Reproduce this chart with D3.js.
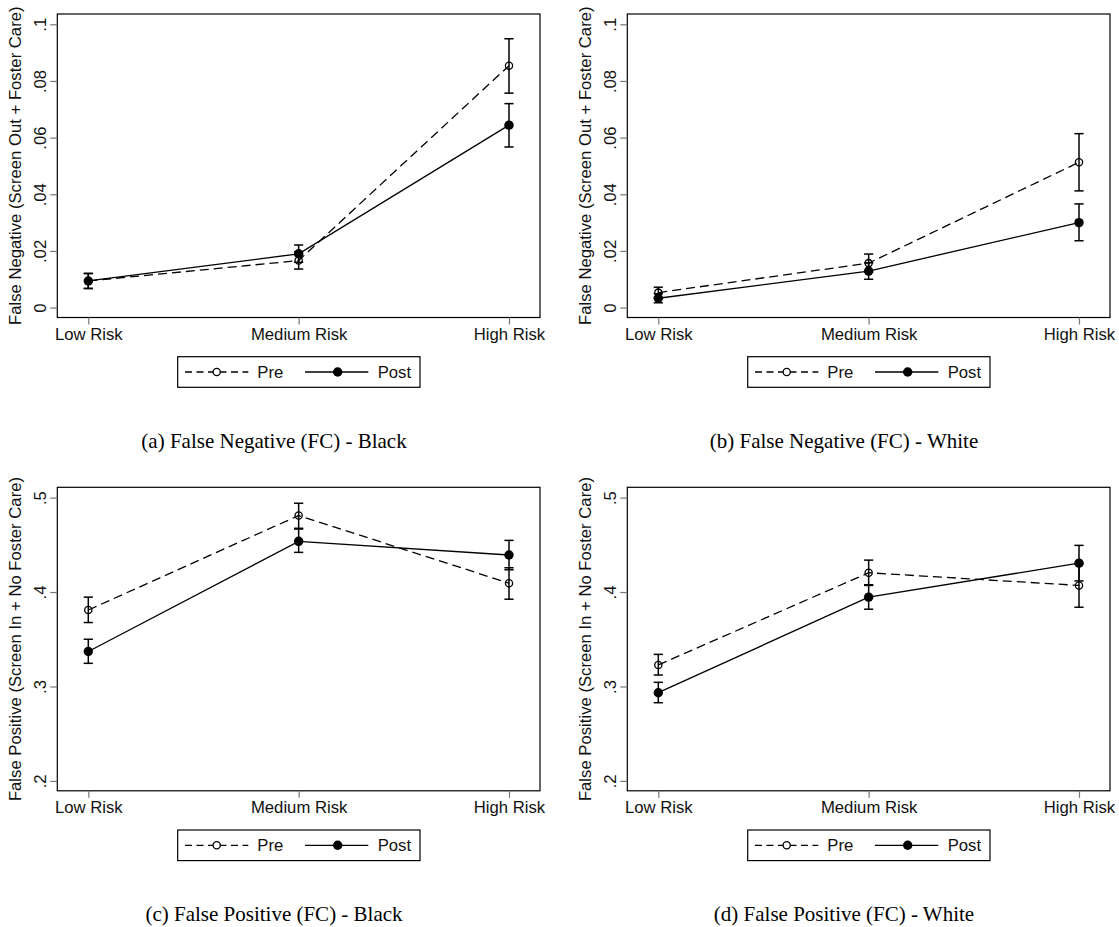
<!DOCTYPE html>
<html>
<head>
<meta charset="utf-8">
<script src="https://cdn.jsdelivr.net/npm/d3@7"></script>
<style>
  html, body { margin: 0; padding: 0; background: #fff; }
  svg { display: block; }
</style>
</head>
<body>
<svg id="chart" width="1119" height="927"></svg>
<script>
// Risk categories on the x axis
const categories = ["Low Risk", "Medium Risk", "High Risk"];

// (a) False Negative (FC) - Black
const fnBlackPre    = [0.0094, 0.0166, 0.0854];
const fnBlackPreLo  = [0.0067, 0.0136, 0.0757];
const fnBlackPreHi  = [0.0120, 0.0197, 0.0949];
const fnBlackPost   = [0.0094, 0.0190, 0.0644];
const fnBlackPostLo = [0.0068, 0.0160, 0.0567];
const fnBlackPostHi = [0.0121, 0.0221, 0.0720];

// (b) False Negative (FC) - White
const fnWhitePre    = [0.0053, 0.0157, 0.0513];
const fnWhitePreLo  = [0.0036, 0.0125, 0.0412];
const fnWhitePreHi  = [0.0072, 0.0189, 0.0614];
const fnWhitePost   = [0.0033, 0.0129, 0.0300];
const fnWhitePostLo = [0.0017, 0.0100, 0.0236];
const fnWhitePostHi = [0.0049, 0.0158, 0.0366];

// (c) False Positive (FC) - Black
const fpBlackPre    = [0.381, 0.481, 0.4094];
const fpBlackPreLo  = [0.3677, 0.4675, 0.3924];
const fpBlackPreHi  = [0.3946, 0.494, 0.4257];
const fpBlackPost   = [0.337, 0.4537, 0.4392];
const fpBlackPostLo = [0.3245, 0.442, 0.4236];
const fpBlackPostHi = [0.350, 0.4667, 0.4547];

// (d) False Positive (FC) - White
const fpWhitePre    = [0.3228, 0.4204, 0.407];
const fpWhitePreLo  = [0.3121, 0.407, 0.3839];
const fpWhitePreHi  = [0.334, 0.4338, 0.430];
const fpWhitePost   = [0.2934, 0.3946, 0.4306];
const fpWhitePostLo = [0.2828, 0.3818, 0.4118];
const fpWhitePostHi = [0.3044, 0.4077, 0.4494];

// Y-axis ticks and their labels
const fnTicks = [0, 0.02, 0.04, 0.06, 0.08, 0.1];
const fnTickLabels = ["0", ".02", ".04", ".06", ".08", ".1"];
const fpTicks = [0.2, 0.3, 0.4, 0.5];
const fpTickLabels = [".2", ".3", ".4", ".5"];

// Text
const seriesNames = ["Pre", "Post"];
const fnTitle = "False Negative (Screen Out + Foster Care)";
const fpTitle = "False Positive (Screen In + No Foster Care)";
const captions = [
  "(a) False Negative (FC) - Black",
  "(b) False Negative (FC) - White",
  "(c) False Positive (FC) - Black",
  "(d) False Positive (FC) - White"
];

const panels = [
  { pre: fnBlackPre, preLo: fnBlackPreLo, preHi: fnBlackPreHi,
    post: fnBlackPost, postLo: fnBlackPostLo, postHi: fnBlackPostHi,
    ticks: fnTicks, labels: fnTickLabels, title: fnTitle, caption: captions[0], col: 0, row: 0 },
  { pre: fnWhitePre, preLo: fnWhitePreLo, preHi: fnWhitePreHi,
    post: fnWhitePost, postLo: fnWhitePostLo, postHi: fnWhitePostHi,
    ticks: fnTicks, labels: fnTickLabels, title: fnTitle, caption: captions[1], col: 1, row: 0 },
  { pre: fpBlackPre, preLo: fpBlackPreLo, preHi: fpBlackPreHi,
    post: fpBlackPost, postLo: fpBlackPostLo, postHi: fpBlackPostHi,
    ticks: fpTicks, labels: fpTickLabels, title: fpTitle, caption: captions[2], col: 0, row: 1 },
  { pre: fpWhitePre, preLo: fpWhitePreLo, preHi: fpWhitePreHi,
    post: fpWhitePost, postLo: fpWhitePostLo, postHi: fpWhitePostHi,
    ticks: fpTicks, labels: fpTickLabels, title: fpTitle, caption: captions[3], col: 1, row: 1 }
];

// Layout of a single panel (local coordinates)
const L = {
  colStep: 570, rowStep: 473.3,
  frameL: 57.3, frameR: 540, frameT: 14, frameB: 317.5,
  plotT: 24.3, plotB: 307.6,
  xFirst: 88.3, xLast: 509,
  tickLen: 7,
  sans: "'Liberation Sans', Arial, sans-serif",
  serif: "'Liberation Serif', 'Times New Roman', serif",
  fs: 16.7, capFs: 21
};

const svg = d3.select("#chart");
svg.append("rect").attr("width", 1119).attr("height", 927).attr("fill", "#fff");

panels.forEach(p => {
  const g = svg.append("g")
    .attr("transform", `translate(${p.col * L.colStep},${p.row * L.rowStep})`);

  const x = d3.scalePoint().domain(categories).range([L.xFirst, L.xLast]);
  const y = d3.scaleLinear()
    .domain([p.ticks[0], p.ticks[p.ticks.length - 1]])
    .range([L.plotB, L.plotT]);

  // Frame
  g.append("rect")
    .attr("x", L.frameL).attr("y", L.frameT)
    .attr("width", L.frameR - L.frameL).attr("height", L.frameB - L.frameT)
    .attr("fill", "none").attr("stroke", "#000").attr("stroke-width", 1.2);

  // Y axis with rotated tick labels
  const yAxis = g.append("g")
    .attr("transform", `translate(${L.frameL},0)`)
    .call(d3.axisLeft(y).tickValues(p.ticks)
      .tickFormat((d, i) => p.labels[i]).tickSize(L.tickLen));
  yAxis.select(".domain").remove();
  yAxis.selectAll(".tick line").attr("stroke", "#777").attr("stroke-width", 1.2);
  yAxis.selectAll(".tick text")
    .attr("x", null).attr("dy", null)
    .attr("transform", "translate(-11.3,0) rotate(-90)")
    .attr("text-anchor", "middle")
    .attr("fill", "#111")
    .style("font-family", L.sans).style("font-size", L.fs + "px");

  // X axis
  const xAxis = g.append("g")
    .attr("transform", `translate(0,${L.frameB})`)
    .call(d3.axisBottom(x).tickSize(L.tickLen));
  xAxis.select(".domain").remove();
  xAxis.selectAll(".tick line").attr("stroke", "#777").attr("stroke-width", 1.2);
  xAxis.selectAll(".tick text")
    .attr("y", 22.5).attr("dy", null)
    .attr("fill", "#111")
    .style("font-family", L.sans).style("font-size", L.fs + "px");

  // Y axis title
  g.append("text")
    .attr("transform", `translate(21,${(L.frameT + L.frameB) / 2}) rotate(-90)`)
    .attr("text-anchor", "middle")
    .attr("fill", "#111")
    .style("font-family", L.sans).style("font-size", L.fs + "px")
    .text(p.title);

  const line = d3.line().x((d, i) => x(categories[i])).y(d => y(d));

  // Confidence-interval spikes with caps
  const drawCI = (lo, hi) => {
    const cg = g.append("g").attr("stroke", "#000").attr("stroke-width", 1.5);
    categories.forEach((c, i) => {
      const cx = x(c);
      cg.append("line").attr("x1", cx).attr("x2", cx)
        .attr("y1", y(lo[i])).attr("y2", y(hi[i]));
      [lo[i], hi[i]].forEach(v => {
        cg.append("line").attr("x1", cx - 4.6).attr("x2", cx + 4.6)
          .attr("y1", y(v)).attr("y2", y(v));
      });
    });
  };
  drawCI(p.preLo, p.preHi);
  drawCI(p.postLo, p.postHi);

  // Pre: dashed line, hollow circles
  g.append("path").datum(p.pre).attr("d", line)
    .attr("fill", "none").attr("stroke", "#000").attr("stroke-width", 1.3)
    .attr("stroke-dasharray", "9,5");
  // Post: solid line, filled circles
  g.append("path").datum(p.post).attr("d", line)
    .attr("fill", "none").attr("stroke", "#000").attr("stroke-width", 1.3);

  g.selectAll(".pre-pt").data(p.pre).enter().append("circle")
    .attr("cx", (d, i) => x(categories[i])).attr("cy", d => y(d))
    .attr("r", 3.6).attr("fill", "none").attr("stroke", "#000").attr("stroke-width", 1.3);
  g.selectAll(".post-pt").data(p.post).enter().append("circle")
    .attr("cx", (d, i) => x(categories[i])).attr("cy", d => y(d))
    .attr("r", 4.7).attr("fill", "#000");

  // Legend
  const lg = g.append("g");
  lg.append("rect").attr("x", 177.7).attr("y", 356.7)
    .attr("width", 242.3).attr("height", 30.6)
    .attr("fill", "#fff").attr("stroke", "#000").attr("stroke-width", 1.2);
  const ly = 372;
  lg.append("line").attr("x1", 185).attr("x2", 248.3).attr("y1", ly).attr("y2", ly)
    .attr("stroke", "#000").attr("stroke-width", 1.3).attr("stroke-dasharray", "7,4.5");
  lg.append("circle").attr("cx", 216.7).attr("cy", ly).attr("r", 3.6)
    .attr("fill", "#fff").attr("stroke", "#000").attr("stroke-width", 1.3);
  lg.append("text").attr("x", 257.3).attr("y", ly + 6)
    .attr("fill", "#111")
    .style("font-family", L.sans).style("font-size", L.fs + "px")
    .text(seriesNames[0]);
  lg.append("line").attr("x1", 305).attr("x2", 368.3).attr("y1", ly).attr("y2", ly)
    .attr("stroke", "#000").attr("stroke-width", 1.3);
  lg.append("circle").attr("cx", 337.7).attr("cy", ly).attr("r", 4.7).attr("fill", "#000");
  lg.append("text").attr("x", 377.7).attr("y", ly + 6)
    .attr("fill", "#111")
    .style("font-family", L.sans).style("font-size", L.fs + "px")
    .text(seriesNames[1]);

  // Sub-figure caption
  g.append("text")
    .attr("x", 274).attr("y", 448)
    .attr("text-anchor", "middle")
    .attr("fill", "#000")
    .style("font-family", L.serif).style("font-size", L.capFs + "px")
    .text(p.caption);
});
</script>
</body>
</html>
